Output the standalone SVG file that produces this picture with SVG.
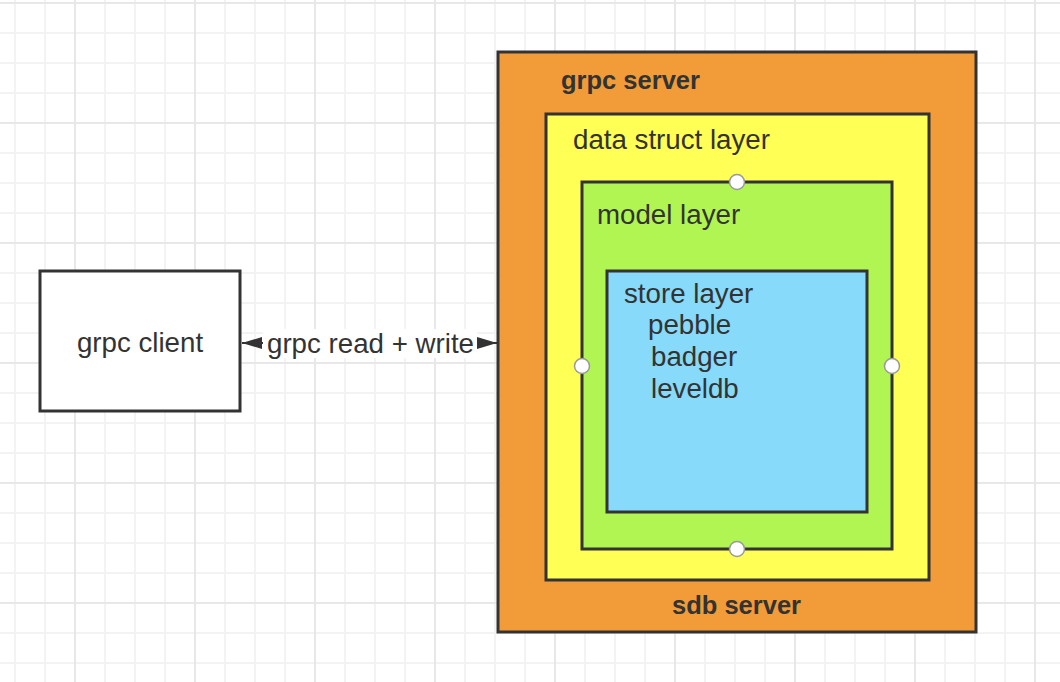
<svg xmlns="http://www.w3.org/2000/svg" width="1060" height="682" viewBox="0 0 1060 682">
<defs>
<pattern id="grid" x="74" y="2" width="120" height="120" patternUnits="userSpaceOnUse">
<rect x="30" y="0" width="2" height="120" fill="#f3f3f3"/>
<rect x="60" y="0" width="2" height="120" fill="#f3f3f3"/>
<rect x="90" y="0" width="2" height="120" fill="#f3f3f3"/>
<rect x="0" y="30" width="120" height="2" fill="#f3f3f3"/>
<rect x="0" y="60" width="120" height="2" fill="#f3f3f3"/>
<rect x="0" y="90" width="120" height="2" fill="#f3f3f3"/>
<rect x="0" y="0" width="2" height="120" fill="#e8e8e8"/>
<rect x="0" y="0" width="120" height="2" fill="#e8e8e8"/>
</pattern>
<marker id="ah" viewBox="0 0 20 12" refX="20" refY="6" markerWidth="20" markerHeight="12" markerUnits="userSpaceOnUse" orient="auto-start-reverse">
<path d="M0,0 L20,6 L0,12 Z" fill="#333"/>
</marker>
</defs>
<style>
.box{stroke:#333;stroke-width:3}
.t{font-family:"Liberation Sans",Arial,sans-serif;font-size:27.7px;fill:#333}
.b{font-family:"Liberation Sans",Arial,sans-serif;font-size:25.5px;font-weight:bold;fill:#333}
.pt{fill:#fff;stroke:#999;stroke-width:1.5}
</style>
<rect width="1060" height="682" fill="#fff"/>
<rect width="1060" height="682" fill="url(#grid)"/>
<g id="connectors">
<line x1="242" y1="343" x2="497" y2="343" stroke="#333" stroke-width="2" marker-start="url(#ah)" marker-end="url(#ah)"/>
<rect x="263" y="329" width="214" height="29" fill="#fff"/>
<text class="t" x="267" y="353">grpc read + write</text>
</g>
<g id="grpc-client">
<rect class="box" x="40" y="271" width="200" height="140" fill="#fff"/>
<text class="t" x="140" y="352" text-anchor="middle">grpc client</text>
</g>
<g id="grpc-server">
<rect class="box" x="498" y="52" width="478" height="580" fill="#f19c38"/>
<text class="b" x="561" y="89">grpc server</text>
<text class="b" x="672" y="614">sdb server</text>
</g>
<g id="data-struct-layer">
<rect class="box" x="546" y="114" width="383" height="466" fill="#ffff55"/>
<text class="t" x="573" y="149">data struct layer</text>
</g>
<g id="model-layer">
<rect class="box" x="582" y="182" width="310" height="367" fill="#b1f552"/>
<text class="t" x="597" y="224">model layer</text>
</g>
<g id="store-layer">
<rect class="box" x="607" y="271" width="260" height="241" fill="#87dafa"/>
<text class="t" x="624" y="303">store layer</text>
<text class="t" x="648" y="334">pebble</text>
<text class="t" x="651" y="366">badger</text>
<text class="t" x="651" y="398">leveldb</text>
</g>
<g id="handles">
<circle class="pt" cx="737" cy="182" r="7.5"/>
<circle class="pt" cx="737" cy="549" r="7.5"/>
<circle class="pt" cx="582" cy="366" r="7.5"/>
<circle class="pt" cx="892" cy="366" r="7.5"/>
</g>
</svg>
